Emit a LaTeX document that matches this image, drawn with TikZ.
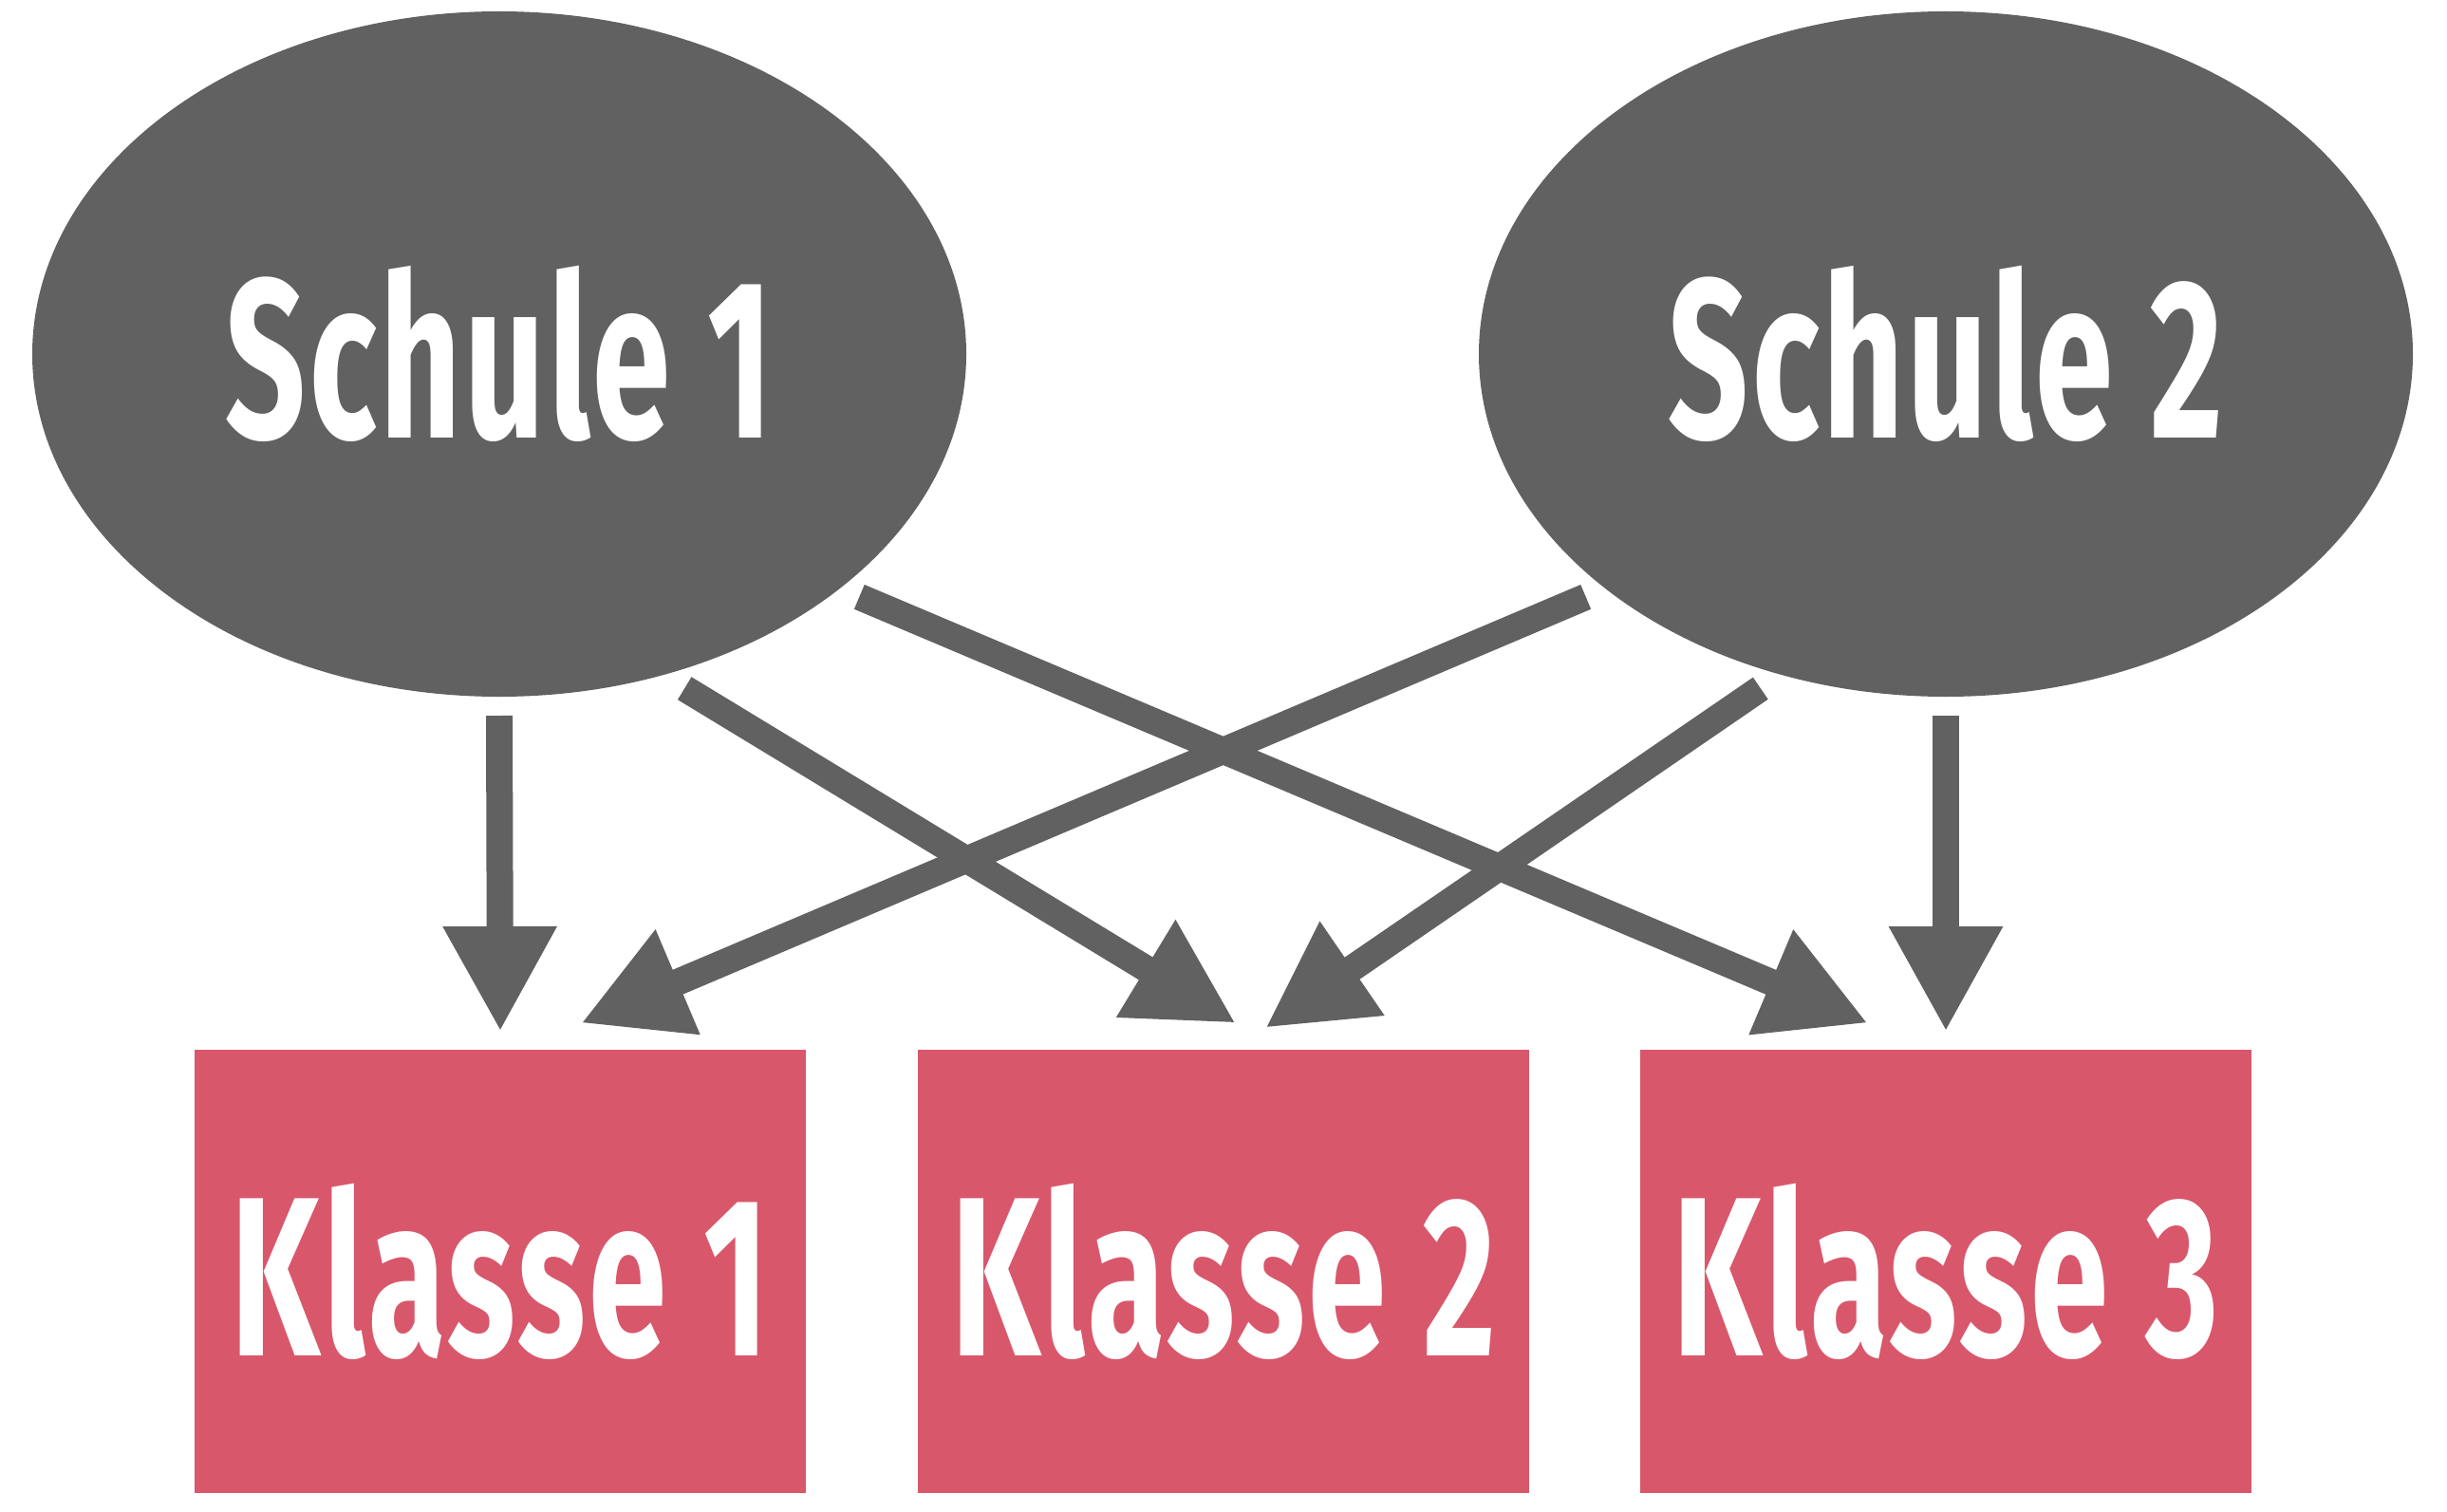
\documentclass[tikz,border=0pt]{standalone}
\usepackage{fontspec}
\usetikzlibrary{shapes.geometric, arrows.meta}
\newfontfamily\diagfont[FakeStretch=0.62, LetterSpace=1.5]{Fira Sans}
\definecolor{schulgrau}{RGB}{97,97,97}
\definecolor{klassenrot}{RGB}{217,87,107}
\tikzset{
	schule/.style={ellipse, fill=schulgrau, text=white, inner sep=0pt, outer sep=0.2cm,
		minimum width=9.84cm, minimum height=7.22cm},
	klasse/.style={rectangle, fill=klassenrot, text=white, inner sep=0pt, outer sep=0.19cm,
		minimum width=6.44cm, minimum height=4.67cm},
	pfeil/.style={draw=schulgrau, line width=0.28cm, -{Triangle[length=1.11cm, width=1.12cm]}}
}

\begin{document}
\begin{tikzpicture}[font=\diagfont\bfseries\fontsize{68}{68}\selectfont]
\useasboundingbox (0,0) rectangle (25.78,15.92);
\node (s1) [schule] at (5.26,12.19) {Schule 1};
\node (s2) [schule] at (20.50,12.19) {Schule 2};
\node (k1) [klasse] at (5.27,2.525) {Klasse 1};
\node (k2) [klasse] at (12.89,2.525) {Klasse 2};
\node (k3) [klasse] at (20.50,2.525) {Klasse 3};
\draw[pfeil] (s1.south) -- (k1.north);
\draw[pfeil] (s1.-61) -- ([shift={(0.13,0.09)}]k2.north);
\draw[pfeil] (s1.-34) -- ([shift={(-0.82,0.09)}]k3.north);
\draw[pfeil] (s2.-146) -- ([shift={(0.85,0.09)}]k1.north);
\draw[pfeil] (s2.-119) -- ([shift={(0.44,0.04)}]k2.north);
\draw[pfeil] (s2.south) -- (k3.north);
\end{tikzpicture}
\end{document}
